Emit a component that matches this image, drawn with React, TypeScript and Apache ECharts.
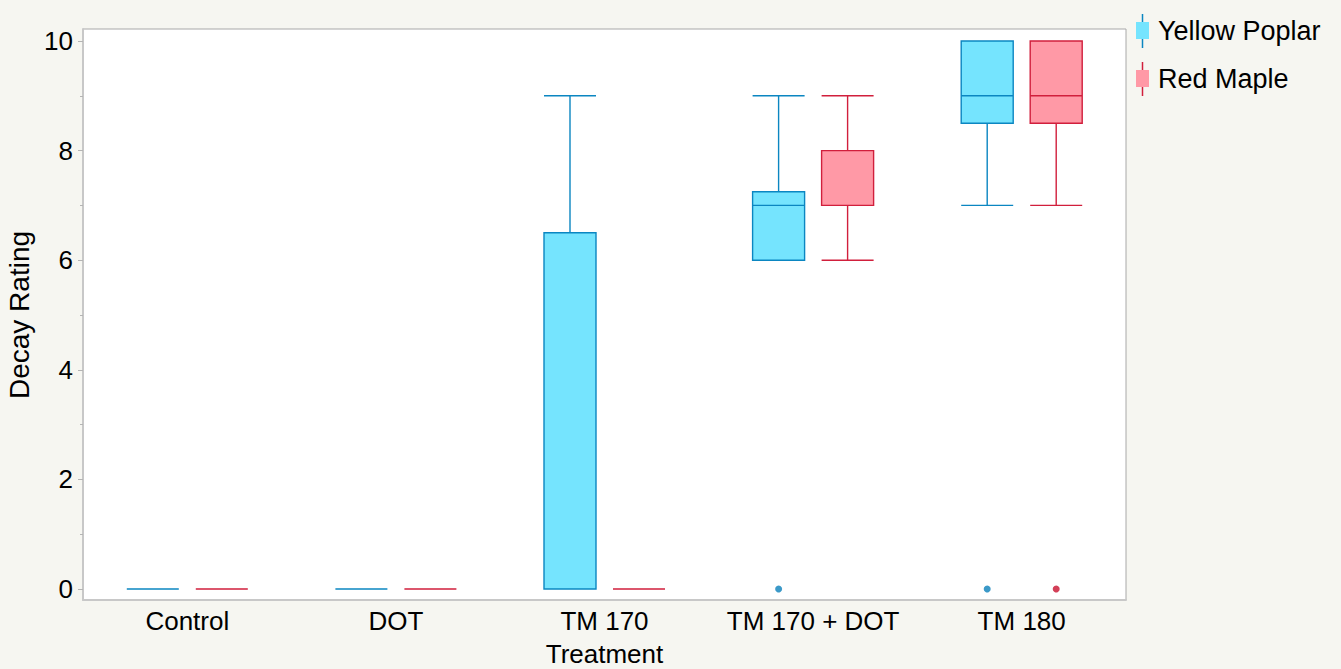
import React, { useEffect, useRef } from "react";
import * as echarts from "echarts";

const categories = ["Control", "DOT", "TM 170", "TM 170 + DOT", "TM 180"];
// [min, Q1, median, Q3, max]
const yellowPoplarBox = [
  [0, 0, 0, 0, 0],
  [0, 0, 0, 0, 0],
  [0, 0, 0, 6.5, 9],
  [6, 6, 7, 7.25, 9],
  [7, 8.5, 9, 10, 10],
];
const redMapleBox = [
  [0, 0, 0, 0, 0],
  [0, 0, 0, 0, 0],
  [0, 0, 0, 0, 0],
  [6, 7, 7, 8, 9],
  [7, 8.5, 9, 10, 10],
];
const yellowPoplarOutliers = [
  [3, 0],
  [4, 0],
];
const redMapleOutliers = [[4, 0]];
const yTicks = [0, 2, 4, 6, 8, 10];

const FONT = "'Liberation Sans', Arial, Helvetica, sans-serif";
const BLUE_FILL = "#75e4fe";
const BLUE_LINE = "#0b86c1";
const RED_FILL = "#ff99a6";
const RED_LINE = "#d11f3c";
const FS = 26;

export default function App() {
  const ref = useRef<HTMLDivElement>(null);
  useEffect(() => {
    if (!ref.current) return;
    const chart = echarts.init(ref.current, undefined, { renderer: "svg" });
    const W = 1341;
    const H = 669;
    const left = 83;
    const right = W - 1126;
    const off = 34.5;
    const hiddenX = (gi: number) => ({
      type: "category",
      gridIndex: gi,
      data: categories,
      show: false,
    });
    const hiddenY = (gi: number) => ({
      type: "value",
      gridIndex: gi,
      min: 0,
      max: 10,
      show: false,
    });
    const g = (l: number, r: number, t: number, b: number, extra = {}) => ({
      left: l,
      right: r,
      top: t,
      bottom: b,
      containLabel: false,
      outerBoundsMode: "none",
      ...extra,
    });
    chart.setOption({
      animation: false,
      backgroundColor: "#f6f6f1",
      textStyle: { fontFamily: FONT },
      grid: [
        g(left, right, 29, H - 600, {
          show: true,
          backgroundColor: "#ffffff",
          borderColor: "#a8a8a8",
          borderWidth: 1,
        }),
        g(left, right, 41, H - 589),
        g(left - off, right + off, 41, H - 589),
        g(left + off, right - off, 41, H - 589),
      ],
      xAxis: [
        {
          type: "category",
          gridIndex: 0,
          data: categories,
          axisLine: { show: true, onZero: false, lineStyle: { color: "#c8c8c8", width: 2 } },
          axisTick: { show: false },
          axisLabel: { fontSize: FS, color: "#000", margin: 8, interval: 0, fontFamily: FONT },
          splitLine: { show: false },
          name: "Treatment",
          nameLocation: "middle",
          nameGap: 41,
          nameTextStyle: { fontSize: 26, color: "#000", fontFamily: FONT },
        },
        hiddenX(1),
        hiddenX(2),
        hiddenX(3),
      ],
      yAxis: [
        {
          type: "value",
          gridIndex: 0,
          min: -0.2,
          max: 10.22,
          axisLine: { show: true, onZero: false, lineStyle: { color: "#c8c8c8", width: 2 } },
          axisTick: { show: false },
          axisLabel: { show: false },
          splitLine: { show: false },
        },
        {
          type: "value",
          gridIndex: 1,
          min: yTicks[0],
          max: yTicks[yTicks.length - 1],
          interval: 2,
          axisLine: { show: false },
          axisTick: { show: true, length: 5, lineStyle: { color: "#b4b4b4" } },
          minorTick: { show: true, splitNumber: 2, length: 3, lineStyle: { color: "#b4b4b4" } },
          axisLabel: { fontSize: FS, color: "#000", margin: 10, fontFamily: FONT },
          splitLine: { show: false },
          name: "Decay Rating",
          nameLocation: "middle",
          nameGap: 48,
          nameTextStyle: { fontSize: 28, color: "#000", fontFamily: FONT },
        },
        hiddenY(2),
        hiddenY(3),
      ],
      legend: {
        orient: "vertical",
        left: 1136,
        top: 17,
        padding: 0,
        itemWidth: 13,
        itemHeight: 17,
        itemGap: 21,
        icon: "rect",
        selectedMode: false,
        data: [
          { name: "Yellow Poplar", itemStyle: { color: BLUE_FILL, borderWidth: 0 } },
          { name: "Red Maple", itemStyle: { color: RED_FILL, borderWidth: 0 } },
        ],
        textStyle: { fontSize: 27, color: "#000", fontFamily: FONT, padding: [0, 0, 0, 4] },
      },
      graphic: [
        {
          type: "line",
          shape: { x1: 1142.5, y1: 14, x2: 1142.5, y2: 48 },
          style: { stroke: BLUE_LINE, lineWidth: 1.5 },
        },
        {
          type: "line",
          shape: { x1: 1142.5, y1: 62, x2: 1142.5, y2: 96 },
          style: { stroke: RED_LINE, lineWidth: 1.5 },
        },
      ],
      series: [
        {
          name: "Yellow Poplar",
          type: "boxplot",
          xAxisIndex: 2,
          yAxisIndex: 2,
          data: yellowPoplarBox,
          boxWidth: [52, 52],
          itemStyle: { color: BLUE_FILL, borderColor: BLUE_LINE, borderWidth: 1.4 },
          emphasis: { disabled: true },
        },
        {
          name: "Red Maple",
          type: "boxplot",
          xAxisIndex: 3,
          yAxisIndex: 3,
          data: redMapleBox,
          boxWidth: [52, 52],
          itemStyle: { color: RED_FILL, borderColor: RED_LINE, borderWidth: 1.4 },
          emphasis: { disabled: true },
        },
        {
          name: "Yellow Poplar outliers",
          type: "scatter",
          xAxisIndex: 2,
          yAxisIndex: 2,
          data: yellowPoplarOutliers,
          symbolSize: 7,
          itemStyle: { color: "#0a7fba" },
          emphasis: { disabled: true },
        },
        {
          name: "Red Maple outliers",
          type: "scatter",
          xAxisIndex: 3,
          yAxisIndex: 3,
          data: redMapleOutliers,
          symbolSize: 7,
          itemStyle: { color: "#c8102e" },
          emphasis: { disabled: true },
        },
      ],
    });
    return () => chart.dispose();
  }, []);
  return (
    <div
      ref={ref}
      style={{ position: "absolute", left: 0, top: 0, width: 1341, height: 669 }}
    />
  );
}
